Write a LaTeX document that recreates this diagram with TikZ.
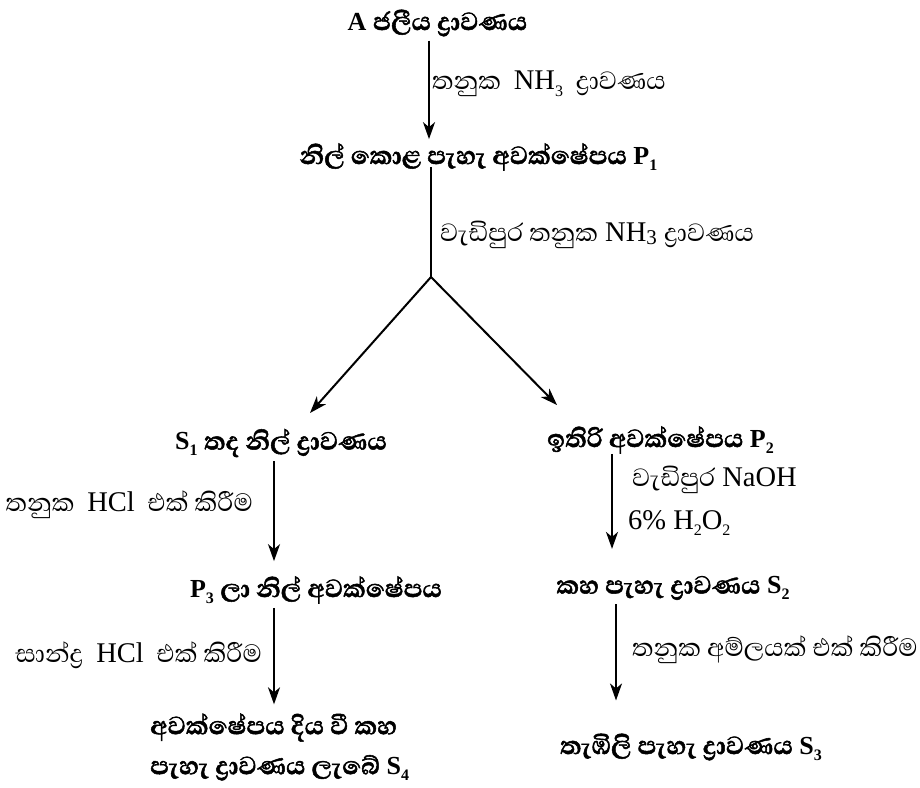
\documentclass[tikz,border=0pt]{standalone}
\usepackage{fontspec}
\setmainfont{Liberation Serif}
\newfontfamily\sifont[Script=Sinhala, BoldFeatures={FakeBold=1.6}]{Abhaya Libre}
\usetikzlibrary{arrows.meta}
\newcommand\snh[1]{{\fontsize{32}{38}\selectfont\sifont #1}}
\newcommand\dn[1]{\raisebox{-0.5ex}{\fontsize{16}{16}\selectfont #1}}
\newcommand\dnn[1]{\raisebox{-0.2ex}{\fontsize{21}{21}\selectfont #1}}
\newcommand\wsp{\hspace{0.45em}}
\begin{document}
\begin{tikzpicture}[x=1pt,y=-1pt,
  box/.style={font=\fontsize{26}{40}\selectfont\bfseries, inner sep=0pt},
  lab/.style={font=\fontsize{28.5}{34}\selectfont, inner sep=0pt, text=black},
  arr/.style={line width=2pt, -{Stealth[length=17pt,width=12pt,inset=5pt]}},
  ln/.style={line width=2pt}
]
\useasboundingbox (0,0) rectangle (920,787);
% nodes
\node[box] (A) at (437.5,23) {A \snh{ජලීය ද්‍රාවණය}};
\node[box] (P1) at (478.5,157) {\snh{නිල් කොළ පැහැ අවක්ෂේපය} P\dn{1}};
\coordinate (br) at (431,277);
\node[box] (S1) at (281,443) {S\dn{1} \snh{තද නිල් ද්‍රාවණය}};
\node[box] (P2) at (660.5,440) {\snh{ඉතිරි අවක්ෂේපය} P\dn{2}};
\node[box] (P3) at (316,590) {P\dn{3} \snh{ලා නිල් අවක්ෂේපය}};
\node[box] (S2) at (673,588) {\snh{කහ පැහැ ද්‍රාවණය} S\dn{2}};
\node[box, align=left, anchor=west] (S4) at (150,747) {\snh{අවක්ෂේපය දිය වී කහ}\\[0pt]\snh{පැහැ ද්‍රාවණය ලැබේ} S\dn{4}};
\node[box] (S3) at (691,747) {\snh{තැඹිලි පැහැ ද්‍රාවණය} S\dn{3}};
% arrow x positions
\coordinate (xa) at (429,0);
\coordinate (xb) at (274,0);
\coordinate (xc) at (612,0);
\coordinate (xd) at (274,0);
\coordinate (xe) at (616,0);
\coordinate (tL) at (310,413);
\coordinate (tR) at (557,405);
% connectors
\draw[arr, shorten <=4pt, shorten >=4pt] (A.south -| xa) -- (P1.north -| xa);
\draw[ln, shorten <=-4pt] (P1.south -| br) -- (br);
\draw[arr] (br) -- (tL);
\draw[arr] (br) -- (tR);
\draw[arr, shorten <=4pt, shorten >=15pt] (S1.south -| xb) -- (P3.north -| xb);
\draw[arr, shorten <=0pt, shorten >=27pt] (P2.south -| xc) -- (S2.north -| xc);
\draw[arr, shorten <=4pt, shorten >=9pt] (P3.south -| xd) -- (S4.north -| xd);
\draw[arr, shorten <=4pt, shorten >=33pt] (S2.south -| xe) -- (S3.north -| xe);
% labels
\node[lab, anchor=west] (l1) at (432,84) {\snh{තනුක}\wsp NH\dn{3}\wsp\snh{ද්‍රාවණය}};
\node[lab, anchor=west] (l2) at (440,235) {\snh{වැඩිපුර තනුක} NH\dnn{3} \snh{ද්‍රාවණය}};
\node[lab, anchor=east] (l3) at (253,505) {\snh{තනුක}\wsp HCl\wsp\snh{එක් කිරීම}};
\node[lab, anchor=west] (l4) at (632,480) {\snh{වැඩිපුර} NaOH};
\node[lab, anchor=west] (l5) at (628,523) {6\% H\dn{2}O\dn{2}};
\node[lab, anchor=east] (l6) at (262,655) {\snh{සාන්ද්‍ර}\wsp HCl\wsp\snh{එක් කිරීම}};
\node[lab, anchor=west] (l7) at (632,650) {\snh{තනුක අම්ලයක් එක් කිරීම}};
\end{tikzpicture}
\end{document}
